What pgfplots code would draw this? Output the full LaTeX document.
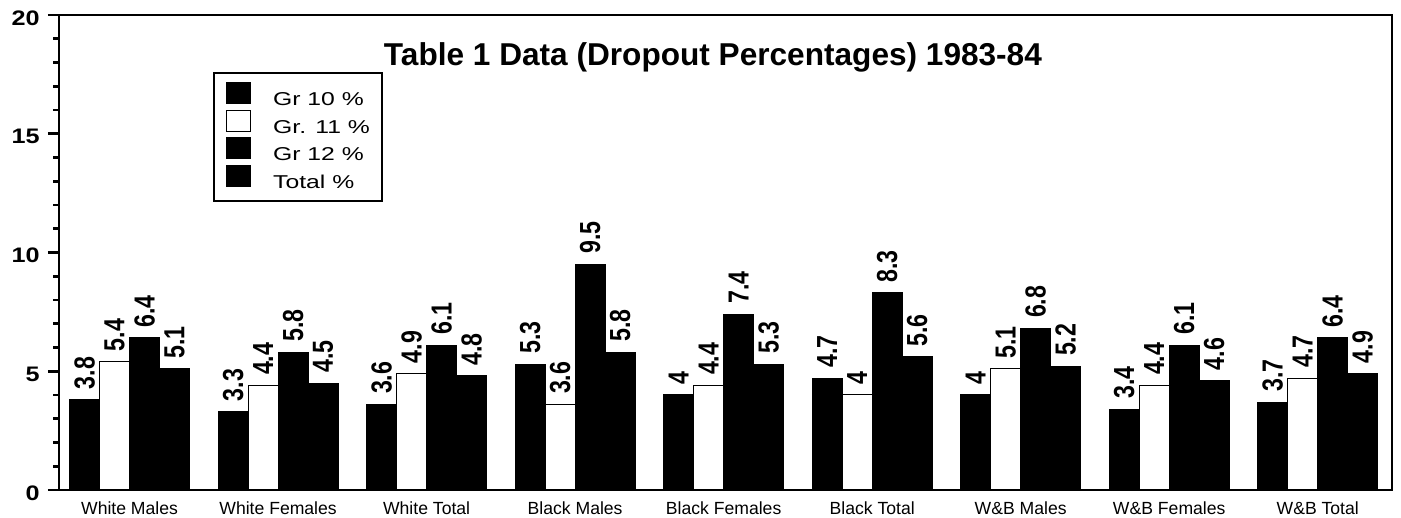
\documentclass[border=0pt]{standalone}
\usepackage{fontspec}
\setmainfont{Liberation Sans}
\usepackage{graphicx}
\usepackage{pgfplots}
\pgfplotsset{compat=1.18}
\pgfplotsset{
  myleg/.style={legend image code/.code={\draw[##1, line width=0.6pt] (0pt,-1.5pt) rectangle (12pt,9pt);}},
}
\begin{document}
\begin{tikzpicture}
\useasboundingbox (-29.5pt,-14pt) rectangle (671pt,245pt);
\begin{axis}[
  at={(0,0)}, anchor=south west,
  scale only axis, width=666.5pt, height=237.5pt,
  xmin=-0.475, xmax=8.5, ymin=0, ymax=20,
  ybar=0pt, bar width=0.202,
  /pgf/number format/assume math mode=true,
  axis line style={line width=1.3pt},
  xtick={0,...,8},
  xticklabels={White Males, White Females, White Total, Black Males, Black Females, Black Total, W\&B Males, W\&B Females, W\&B Total},
  x tick style={draw=none},
  xticklabel style={font=\fontsize{8.8}{10}\selectfont, anchor=north, inner sep=0pt},
  ytick={0,5,10,15,20}, minor y tick num=4,
  tick align=outside, ytick pos=left, xtick pos=bottom,
  y tick style={line width=1.3pt, black},
  major tick length=5.5pt, minor tick length=3pt,
  yticklabel={\scalebox{1.2}[1]{\fontsize{10.5}{12}\selectfont\bfseries\pgfmathprintnumber{\tick}}},
  yticklabel style={anchor=east, inner sep=0pt, xshift=-4pt, yshift=-1.5pt},
  nodes near coords={\scalebox{0.8}[1]{\fontsize{14.5}{14}\selectfont\bfseries\pgfmathprintnumber{\pgfplotspointmeta}}},
  every node near coord/.append style={rotate=90, anchor=west, inner xsep=5pt, inner ysep=0pt},
  legend style={
    at={(rel axis cs:0.1155,0.88)}, anchor=north west,
    draw=black, line width=1pt,
    inner xsep=6pt, inner ysep=4.5pt,
    row sep=0.5pt,
    font=\fontsize{9.3}{10}\selectfont,
    nodes={inner sep=0pt},
    /tikz/every odd column/.append style={column sep=11pt},
  },
  legend cell align=left,
  clip=false,
]
\addplot[fill=black, draw=black, line width=0.5pt, myleg] coordinates {(0,3.8) (1,3.3) (2,3.6) (3,5.3) (4,4) (5,4.7) (6,4) (7,3.4) (8,3.7)};
\addlegendentry{\scalebox{1.33}[1]{Gr 10 \%}}
\addplot[fill=white, draw=black, line width=0.5pt, myleg] coordinates {(0,5.4) (1,4.4) (2,4.9) (3,3.6) (4,4.4) (5,4) (6,5.1) (7,4.4) (8,4.7)};
\addlegendentry{\scalebox{1.33}[1]{Gr. 11 \%}}
\addplot[fill=black, draw=black, line width=0.5pt, myleg] coordinates {(0,6.4) (1,5.8) (2,6.1) (3,9.5) (4,7.4) (5,8.3) (6,6.8) (7,6.1) (8,6.4)};
\addlegendentry{\scalebox{1.33}[1]{Gr 12 \%}}
\addplot[fill=black, draw=black, line width=0.5pt, myleg] coordinates {(0,5.1) (1,4.5) (2,4.8) (3,5.8) (4,5.3) (5,5.6) (6,5.2) (7,4.6) (8,4.9)};
\addlegendentry{\scalebox{1.33}[1]{Total \%}}
\node[font=\fontsize{15.8}{18}\selectfont\bfseries, anchor=base] at (rel axis cs:0.4906,0.8947) {Table 1 Data (Dropout Percentages) 1983-84};
\end{axis}
\end{tikzpicture}
\end{document}
